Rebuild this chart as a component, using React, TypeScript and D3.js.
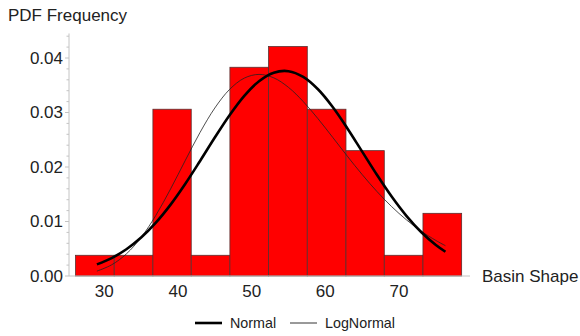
import React, { useEffect, useRef } from 'react';
import * as d3 from 'd3';

// histogram bins (Basin Shape) and PDF densities
const binEdges = [26.1, 31.35, 36.6, 41.8, 47.05, 52.3, 57.55, 62.8, 68.0, 73.25, 78.5];
const binDensity = [0.0038, 0.0038, 0.0306, 0.0038, 0.0383, 0.0421, 0.0306, 0.023, 0.0038, 0.0115];

// fitted curves, sampled along the x axis
const curveX = [29, 31, 33, 35, 37, 39, 41, 43, 45, 47, 49, 51, 53, 55, 57, 59, 61, 63, 65, 67, 69, 71, 73, 75, 76.3];
const normalY = [0.00213, 0.00329, 0.0049, 0.00705, 0.00979, 0.0131, 0.01693, 0.02111, 0.0254, 0.0295, 0.03306, 0.03575,
  0.03731, 0.03758, 0.03653, 0.03426, 0.03101, 0.02708, 0.02283, 0.01857, 0.01458, 0.01104, 0.00807, 0.00569, 0.00445];
const logNormalY = [0.0009, 0.00205, 0.00406, 0.00708, 0.01113, 0.01598, 0.02122, 0.02635, 0.03082, 0.03423, 0.03631, 0.03699,
  0.03636, 0.03461, 0.03201, 0.02887, 0.02544, 0.02196, 0.01861, 0.01551, 0.01273, 0.01031, 0.00824, 0.00652, 0.00556];

const xTicks = [30, 40, 50, 60, 70];
const yTicks = [0, 0.01, 0.02, 0.03, 0.04];

const FONT = '"Liberation Sans", Arial, sans-serif';

const App = () => {
  const svgRef = useRef<SVGSVGElement>(null);
  const width = 580;
  const height = 336;

  useEffect(() => {
    const svg = d3.select(svgRef.current);
    svg.selectAll('*').remove();

    const x = d3.scaleLinear().domain([20, 80]).range([30.6, 472.7]);
    const y = d3.scaleLinear().domain([0, 0.045]).range([276, 30.75]);
    const axisColor = '#c4c4c4';
    const textColor = '#222';

    // bars
    svg.append('g')
      .selectAll('rect')
      .data(binDensity)
      .enter()
      .append('rect')
      .attr('x', (d, i) => x(binEdges[i]))
      .attr('width', (d, i) => x(binEdges[i + 1]) - x(binEdges[i]))
      .attr('y', d => y(d))
      .attr('height', d => y(0) - y(d))
      .attr('fill', '#ff0000')
      .attr('stroke', '#5a3030')
      .attr('stroke-width', 0.8);

    // y axis
    const y0 = 69;
    svg.append('line')
      .attr('x1', y0).attr('x2', y0)
      .attr('y1', y(0)).attr('y2', y(0.0445))
      .attr('stroke', axisColor);
    const minor = d3.range(0, 0.0445, 0.002);
    svg.append('g')
      .selectAll('line')
      .data(minor)
      .enter()
      .append('line')
      .attr('x1', y0)
      .attr('x2', (d, i) => (i % 5 === 0 ? y0 - 4 : y0 - 2.5))
      .attr('y1', d => y(d)).attr('y2', d => y(d))
      .attr('stroke', axisColor);
    svg.append('g')
      .selectAll('text')
      .data(yTicks)
      .enter()
      .append('text')
      .attr('x', 63)
      .attr('y', d => y(d))
      .attr('dy', '0.35em')
      .attr('text-anchor', 'end')
      .style('font-family', FONT)
      .style('font-size', '17px')
      .style('fill', textColor)
      .text(d => d3.format('.2f')(d));

    // x axis
    svg.append('line')
      .attr('x1', y0).attr('x2', 470)
      .attr('y1', y(0)).attr('y2', y(0))
      .attr('stroke', axisColor);
    svg.append('g')
      .selectAll('text')
      .data(xTicks)
      .enter()
      .append('text')
      .attr('x', d => x(d))
      .attr('y', 296.5)
      .attr('text-anchor', 'middle')
      .style('font-family', FONT)
      .style('font-size', '17px')
      .style('fill', textColor)
      .text(d => d);

    // curves
    const line = d3.line<number>()
      .x((d, i) => x(curveX[i]))
      .y(d => y(d))
      .curve(d3.curveCatmullRom);
    svg.append('path')
      .attr('d', line(logNormalY))
      .attr('fill', 'none')
      .attr('stroke', '#222')
      .attr('stroke-width', 0.8);
    svg.append('path')
      .attr('d', line(normalY))
      .attr('fill', 'none')
      .attr('stroke', '#000')
      .attr('stroke-width', 2.6);

    // axis labels
    svg.append('text')
      .attr('x', 8).attr('y', 21)
      .style('font-family', FONT)
      .style('font-size', '17px')
      .style('fill', textColor)
      .text('PDF Frequency');
    svg.append('text')
      .attr('x', 482).attr('y', y(0))
      .attr('dy', '0.35em')
      .style('font-family', FONT)
      .style('font-size', '17px')
      .style('fill', textColor)
      .text('Basin Shape');

    // legend
    const legendData = [
      { label: 'Normal', x: 195, w: 2.6 },
      { label: 'LogNormal', x: 290, w: 0.8 },
    ];
    legendData.forEach(item => {
      const g = svg.append('g').attr('transform', `translate(${item.x}, 323)`);
      g.append('line')
        .attr('x1', 0).attr('x2', 27)
        .attr('y1', 0).attr('y2', 0)
        .attr('stroke', '#000')
        .attr('stroke-width', item.w);
      g.append('text')
        .attr('x', 35).attr('y', 0)
        .attr('dy', '0.35em')
        .style('font-family', FONT)
        .style('font-size', '14.3px')
        .style('fill', textColor)
        .text(item.label);
    });
  }, []);

  return (
    <div style={{ position: 'absolute', left: 0, top: 0 }}>
      <svg ref={svgRef} width={width} height={height} style={{ display: 'block', background: '#fff' }}></svg>
    </div>
  );
};

export default App;
